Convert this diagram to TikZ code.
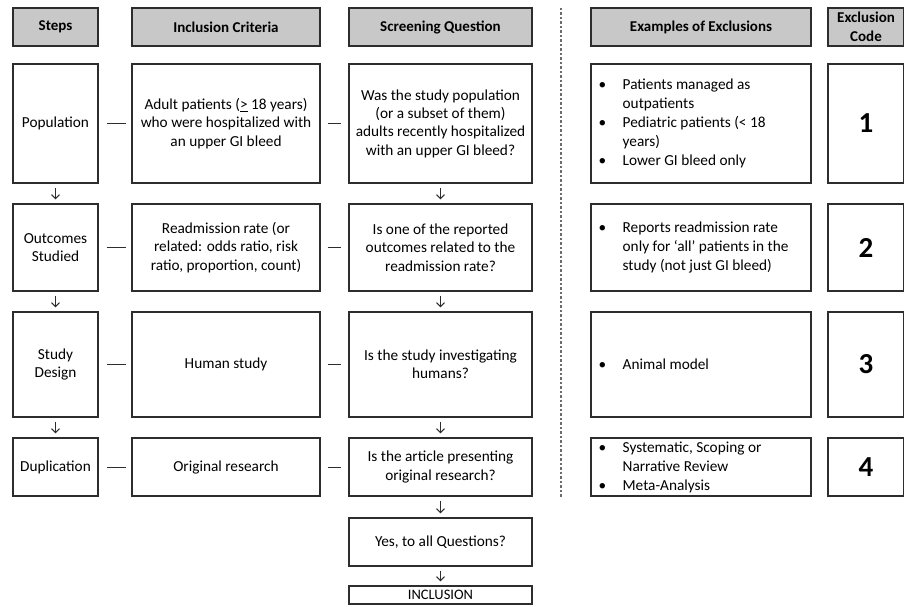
\documentclass[tikz,border=0pt]{standalone}
\usepackage{fontspec}
\setmainfont{Carlito}
\usetikzlibrary{arrows.meta}
\definecolor{hdr}{RGB}{200,200,200}
\definecolor{ln}{RGB}{45,45,45}
\newcommand\bul{\makebox[24pt][l]{•}}
\newcommand\ind{\hspace*{24pt}}
\begin{document}
\begin{tikzpicture}[x=1pt,y=-1pt,
  box/.style={draw=ln,line width=1.1pt,align=center,inner sep=2pt,
    font=\fontsize{15.3}{18.3}\selectfont},
  hdrbox/.style={box,fill=hdr,font=\bfseries\fontsize{15}{19}\selectfont},
  excbox/.style={box},
  exctext/.style={anchor=west,align=left,inner sep=0pt,
    font=\fontsize{15.3}{19}\selectfont},
  codebox/.style={box,font=\bfseries\fontsize{29}{30}\selectfont},
  dashline/.style={draw=ln,line width=1pt,shorten <=8pt,shorten >=5pt},
  dashline2/.style={draw=ln,line width=1pt,shorten <=7pt,shorten >=7pt},
  arr/.style={draw=ln,line width=1.1pt,-{Straight Barb[length=4pt,width=8pt]},
    shorten <=4pt,shorten >=4pt},
  sep/.style={draw=ln!70,line width=1.4pt,dash pattern=on 2.5pt off 2pt}]
\useasboundingbox (0,0) rectangle (904,607);
% headers
\node[hdrbox,minimum width=85pt,minimum height=38pt] (hs) at (55.5,27) {Steps};
\node[hdrbox,minimum width=188pt,minimum height=38pt] (hi) at (226,27) {Inclusion Criteria};
\node[hdrbox,minimum width=183pt,minimum height=38pt] (hq) at (440.5,27) {Screening Question};
\node[hdrbox,minimum width=220pt,minimum height=38pt] (he) at (701,27) {Examples of Exclusions};
\node[hdrbox,minimum width=76pt,minimum height=38pt] (hc) at (866,27) {Exclusion\\Code};
% row 1
\node[box,minimum width=85pt,minimum height=119pt] (s1) at (55.5,123.5) {Population};
\node[box,minimum width=188pt,minimum height=119pt] (i1) at (226,123.5)
  {Adult patients (\underline{>} 18 years)\\who were hospitalized with\\an upper GI bleed};
\node[box,minimum width=183pt,minimum height=119pt] (q1) at (440.5,123.5)
  {Was the study population\\(or a subset of them)\\adults recently hospitalized\\with an upper GI bleed?};
\node[excbox,minimum width=220pt,minimum height=119pt] (e1) at (701,123.5) {};
\node[exctext] (e1t) at ([xshift=8pt]e1.west)
  {\bul Patients managed as\\\ind outpatients\\\bul Pediatric patients (< 18\\\ind years)\\\bul Lower GI bleed only};
\node[codebox,minimum width=76pt,minimum height=119pt] (c1) at (866,123.5) {1};
% row 2
\node[box,minimum width=85pt,minimum height=87pt] (s2) at (55.5,247.5) {Outcomes\\Studied};
\node[box,minimum width=188pt,minimum height=87pt] (i2) at (226,247.5)
  {Readmission rate (or\\related: odds ratio, risk\\ratio, proportion, count)};
\node[box,minimum width=183pt,minimum height=87pt] (q2) at (440.5,247.5)
  {Is one of the reported\\outcomes related to the\\readmission rate?};
\node[excbox,minimum width=220pt,minimum height=87pt] (e2) at (701,247.5) {};
\node[exctext] (e2t) at ([xshift=8pt]e2.west)
  {\bul Reports readmission rate\\\ind only for ‘all’ patients in the\\\ind study (not just GI bleed)};
\node[codebox,minimum width=76pt,minimum height=87pt] (c2) at (866,247.5) {2};
% row 3
\node[box,minimum width=85pt,minimum height=105pt] (s3) at (55.5,364.5) {Study\\Design};
\node[box,minimum width=188pt,minimum height=105pt] (i3) at (226,364.5) {Human study};
\node[box,minimum width=183pt,minimum height=105pt] (q3) at (440.5,364.5)
  {Is the study investigating\\humans?};
\node[excbox,minimum width=220pt,minimum height=105pt] (e3) at (701,364.5) {};
\node[exctext] (e3t) at ([xshift=8pt]e3.west) {\bul Animal model};
\node[codebox,minimum width=76pt,minimum height=105pt] (c3) at (866,364.5) {3};
% row 4
\node[box,minimum width=85pt,minimum height=58pt] (s4) at (55.5,467) {Duplication};
\node[box,minimum width=188pt,minimum height=58pt] (i4) at (226,467) {Original research};
\node[box,minimum width=183pt,minimum height=58pt] (q4) at (440.5,467)
  {Is the article presenting\\original research?};
\node[excbox,minimum width=220pt,minimum height=58pt] (e4) at (701,467) {};
\node[exctext] (e4t) at ([xshift=8pt]e4.west)
  {\bul Systematic, Scoping or\\\ind Narrative Review\\\bul Meta-Analysis};
\node[codebox,minimum width=76pt,minimum height=58pt] (c4) at (866,467) {4};
% final
\node[box,minimum width=183pt,minimum height=48pt] (yes) at (440.5,542) {Yes, to all Questions?};
\node[box,minimum width=183pt,minimum height=18pt,inner sep=0pt,
  font=\fontsize{14.5}{16}\selectfont] (inc) at (440.5,595) {INCLUSION};
% separator
\coordinate (dtop) at (561,8);
\coordinate (dbot) at (561,497);
\draw[sep] (dtop) -- (dbot);
% connectors
\foreach \r in {1,2,3,4}{
  \draw[dashline] (s\r.east) -- (i\r.west);
  \draw[dashline2] (i\r.east) -- (q\r.west);
}
\draw[arr] (s1) -- (s2);
\draw[arr] (s2) -- (s3);
\draw[arr] (s3) -- (s4);
\draw[arr] (q1) -- (q2);
\draw[arr] (q2) -- (q3);
\draw[arr] (q3) -- (q4);
\draw[arr] (q4) -- (yes);
\draw[arr] (yes) -- (inc);
\end{tikzpicture}
\end{document}
